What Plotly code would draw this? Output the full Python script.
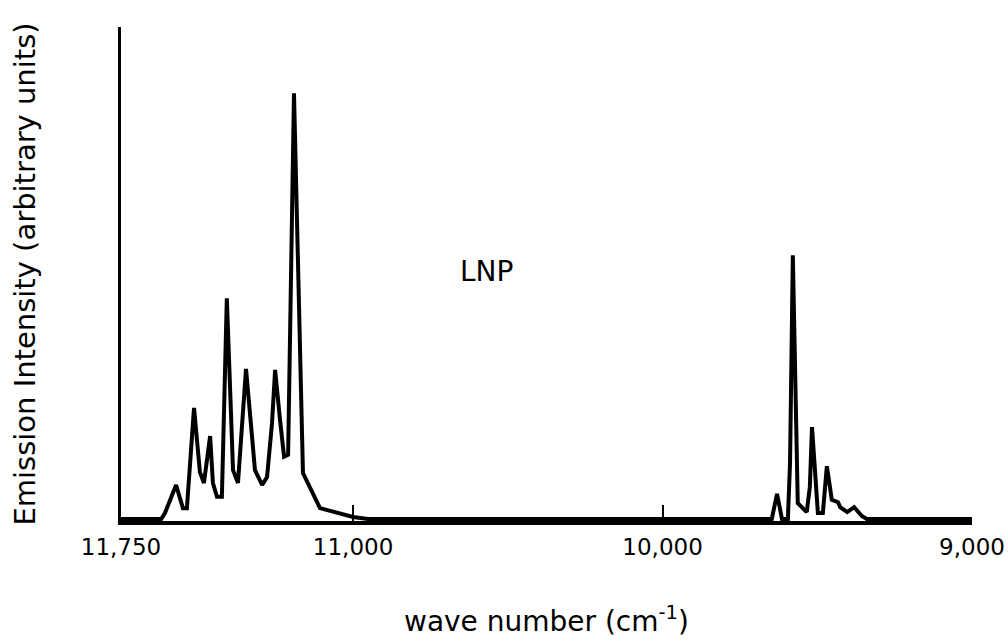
import plotly.graph_objects as go

# Emission spectrum (LNP), wave number in cm^-1 (axis reversed), arbitrary intensity
wavenumber = [11750, 11700, 11650, 11620, 11608, 11572, 11550, 11537, 11514, 11495,
              11482, 11472, 11462, 11453, 11440, 11424, 11408, 11388, 11372, 11346,
              11317, 11294, 11278, 11262, 11252, 11236, 11223, 11210, 11191, 11162,
              11107, 11000, 10952, 10500, 10000, 9647, 9630, 9614, 9595, 9588,
              9579, 9563, 9534, 9524, 9517, 9508, 9498, 9482, 9469, 9453,
              9433, 9426, 9403, 9381, 9356, 9340, 9200, 9000]
intensity = [0.4, 0.4, 0.4, 0.4, 1.6, 7.3, 2.6, 2.6, 22.9, 9.9,
             7.7, 12.3, 17.2, 7.7, 4.9, 4.9, 45.1, 10.3, 7.7, 30.8,
             10.3, 7.3, 8.9, 19.8, 30.6, 20.4, 13.0, 13.4, 86.6, 9.7,
             2.6, 0.8, 0.4, 0.4, 0.4, 0.4, 5.5, 0.4, 0.4, 11.7,
             53.8, 3.6, 1.8, 6.9, 19.0, 9.7, 1.6, 1.6, 11.1, 4.3,
             3.8, 2.8, 1.8, 2.8, 1.0, 0.4, 0.4, 0.4]

tick_vals = [11750, 11000, 10000, 9000]
tick_text = ["11,750", "11,000", "10,000", "9,000"]

FONT = "DejaVu Sans"

fig = go.Figure()
fig.add_trace(go.Scatter(
    x=wavenumber, y=intensity, mode="lines",
    line=dict(color="black", width=4, shape="linear"),
    hoverinfo="skip", showlegend=False,
))

fig.add_annotation(
    x=0.43, y=0.505, xref="paper", yref="paper",
    text="LNP", showarrow=False,
    font=dict(family=FONT, size=28, color="black"),
    xanchor="center", yanchor="middle",
)

fig.update_layout(
    width=1008, height=644,
    margin=dict(l=121, r=36, t=27, b=123),
    paper_bgcolor="white", plot_bgcolor="white",
    font=dict(family=FONT, color="black"),
    xaxis=dict(
        range=[11750, 9000], automargin=False,
        tickmode="array", tickvals=tick_vals, ticktext=tick_text,
        ticks="inside", ticklen=16, tickwidth=2, tickcolor="black",
        tickfont=dict(family=FONT, size=23, color="black"),
        ticklabelstandoff=2,
        showline=True, linecolor="black", linewidth=4,
        showgrid=False, zeroline=False,
        title=dict(text="wave number (cm<sup>-1</sup>)",
                   font=dict(family=FONT, size=28, color="black"),
                   standoff=54),
    ),
    yaxis=dict(
        range=[0, 100], automargin=False,
        showticklabels=False, ticks="",
        showline=True, linecolor="black", linewidth=3,
        showgrid=False, zeroline=False,
        title=dict(text="Emission Intensity (arbitrary units)",
                   font=dict(family=FONT, size=29, color="black"),
                   standoff=74),
    ),
)

fig.write_html("out.html")
